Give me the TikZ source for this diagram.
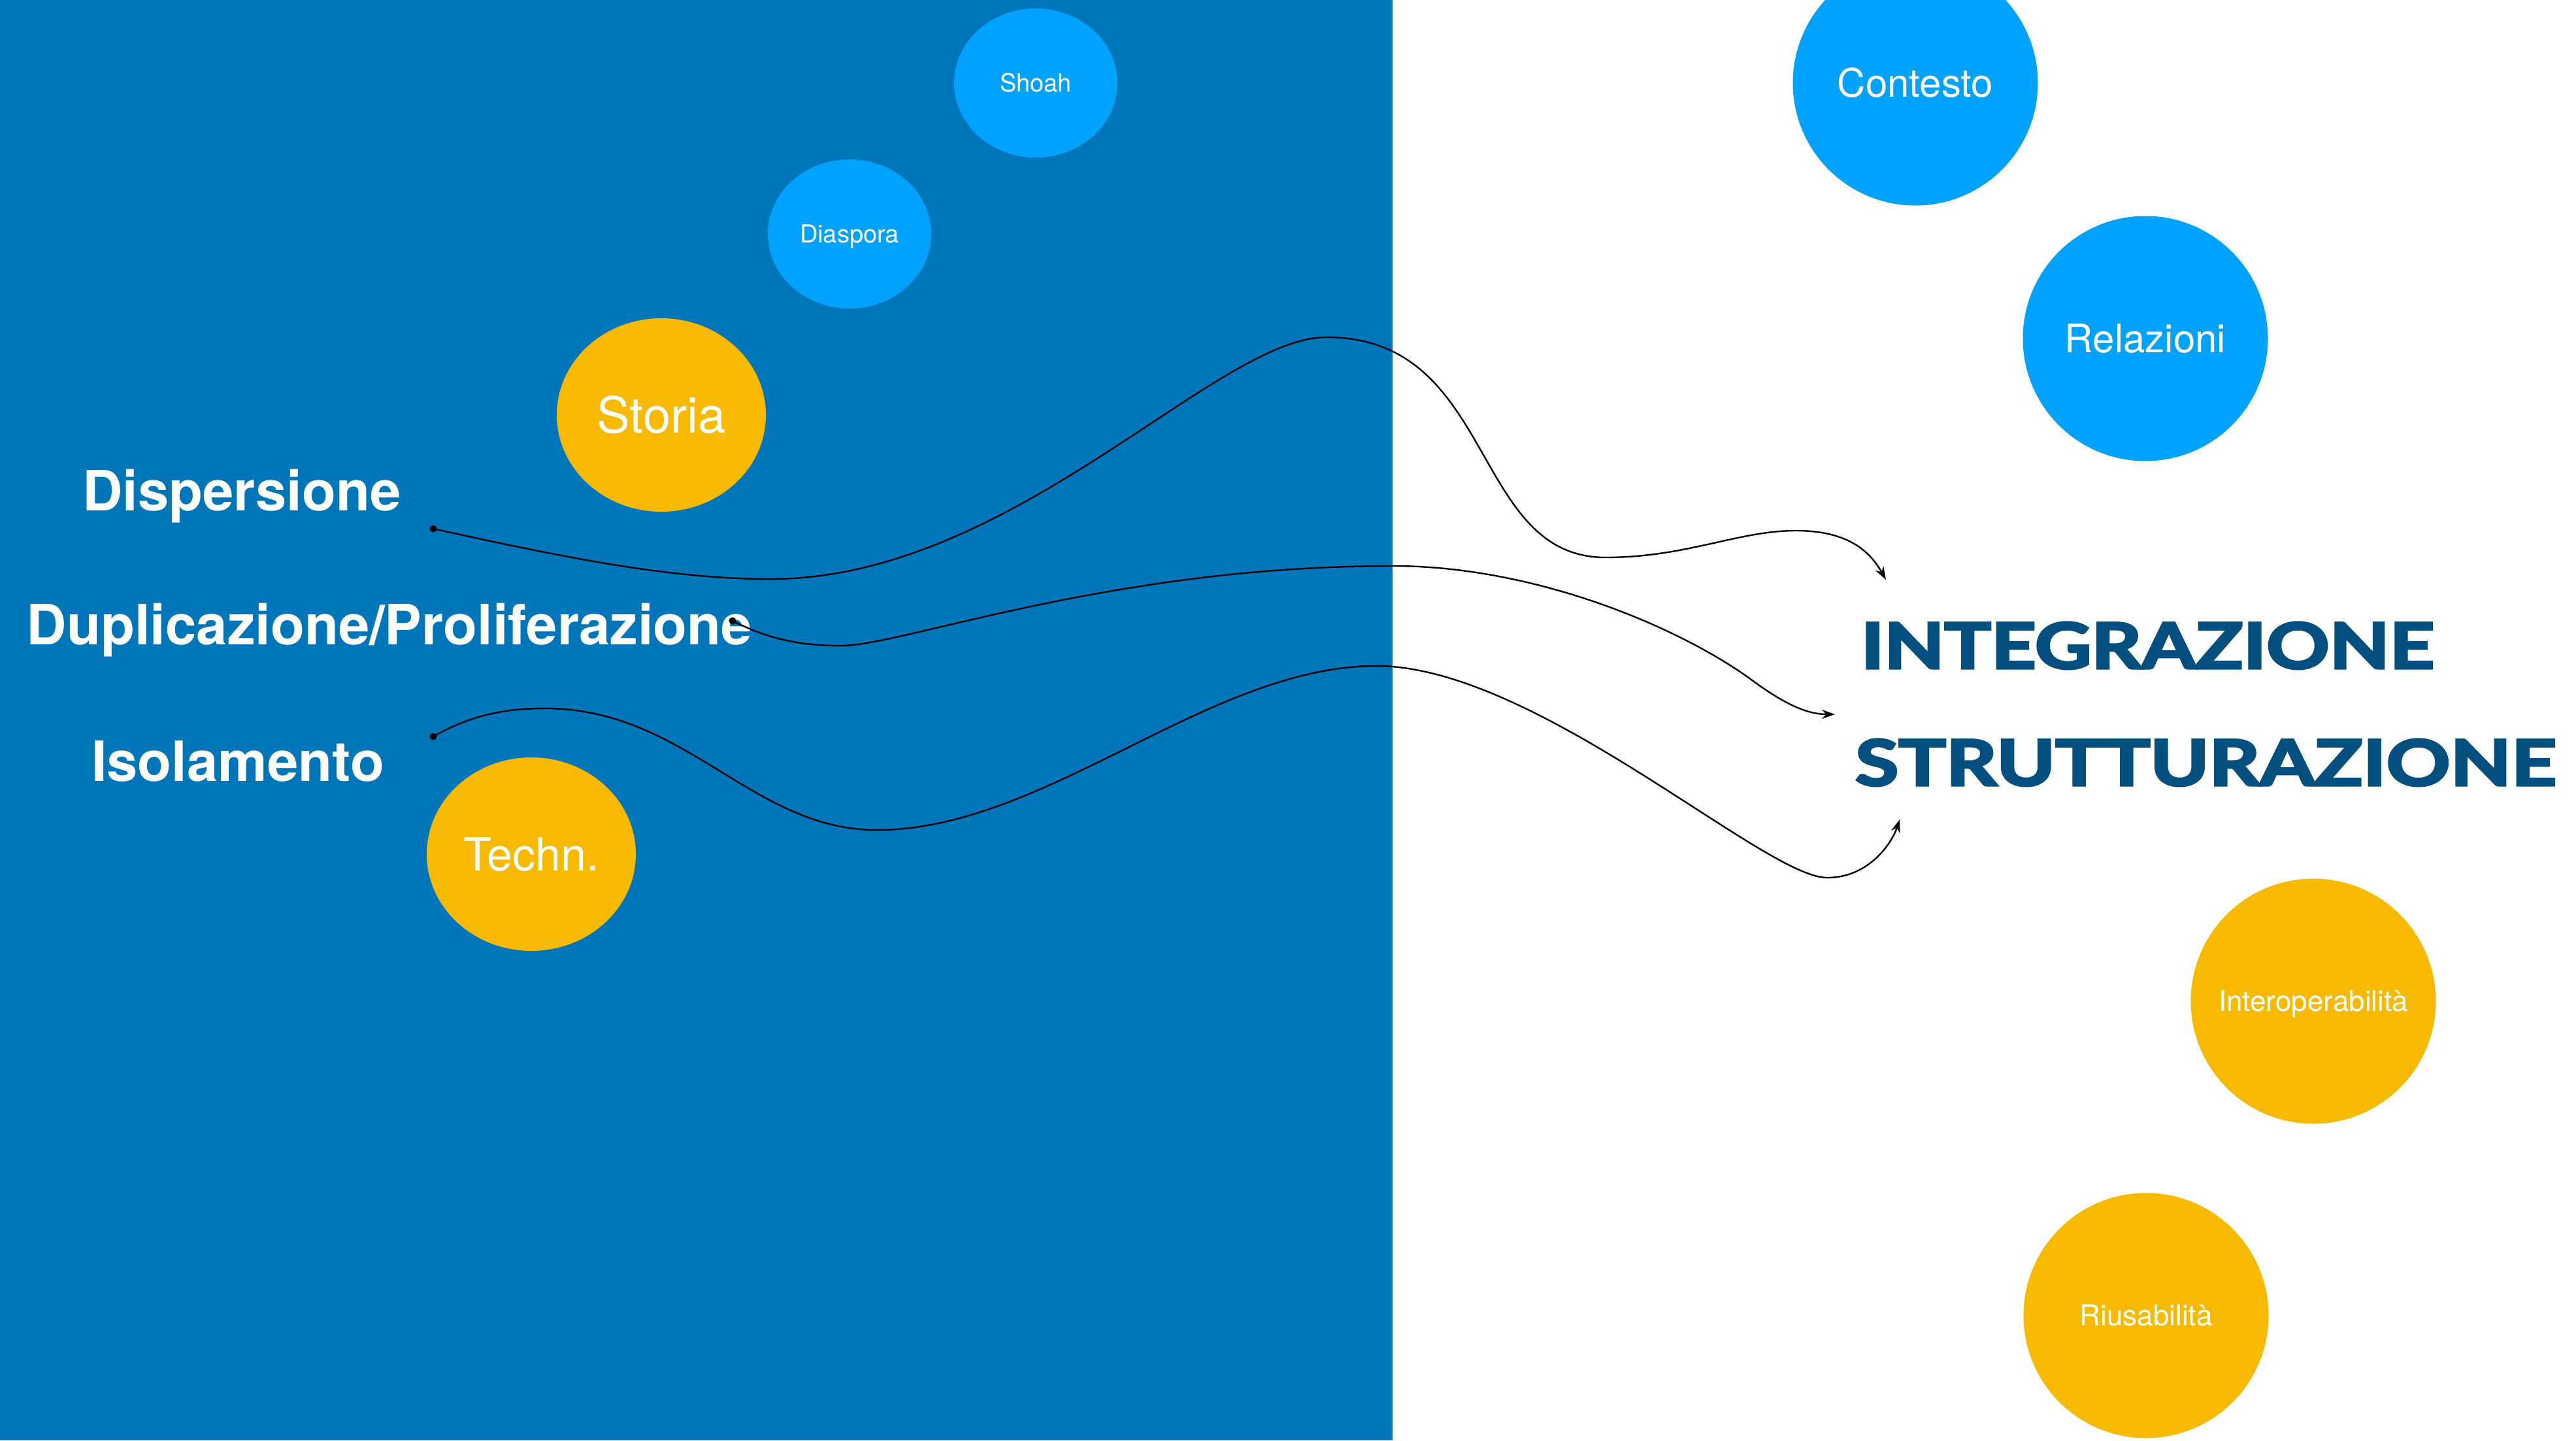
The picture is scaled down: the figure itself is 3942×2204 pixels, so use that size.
\documentclass[tikz,border=0pt]{standalone}
\usepackage{fontspec}
\usepackage{graphicx}
\setmainfont{TeX Gyre Heros}
\newfontfamily\titlefont{Lato}[BoldFeatures={FakeBold=3.5}]
\usetikzlibrary{shapes.geometric,arrows.meta}
\definecolor{panelblue}{RGB}{0,118,186}
\definecolor{lightblue}{RGB}{0,162,255}
\definecolor{gold}{RGB}{248,186,0}
\definecolor{titleblue}{RGB}{2,79,128}
\begin{document}
\begin{tikzpicture}[x=1pt,y=-1pt,
  bubble/.style={fill=#1, draw=none, inner sep=0pt, text=white, text depth=0pt},
  ebub/.style={bubble=#1, ellipse},
  cbub/.style={bubble=#1, circle, minimum size=375pt},
  problem/.style={text=white, font=\fontsize{85}{100}\selectfont\bfseries, anchor=base, inner sep=0pt},
  goal/.style={text=titleblue, anchor=base, inner sep=0pt},
  flow/.style={line width=2.4pt, -{Stealth[length=20pt,width=14pt]}},
  startdot/.style={fill=black}
]
\useasboundingbox (0,0) rectangle (3942,2204);
\clip (0,0) rectangle (3942,2204);
\fill[white] (0,0) rectangle (3942,2204);
\fill[panelblue] (0,0) rectangle (2131,2204);

% bubbles on the blue panel
\node[ebub=lightblue, minimum width=250pt, minimum height=228pt,
      font=\fontsize{38}{40}\selectfont, text height=27pt] (shoah) at (1585,127) {Shoah};
\node[ebub=lightblue, minimum width=250pt, minimum height=228pt,
      font=\fontsize{38}{40}\selectfont, text height=27pt] (diaspora) at (1300,358) {Diaspora};
\node[ebub=gold, minimum width=320pt, minimum height=296pt,
      font=\fontsize{76}{80}\selectfont, text height=54pt] (storia) at (1012,635) {Storia};
\node[ebub=gold, minimum width=320pt, minimum height=296pt,
      font=\fontsize{70}{74}\selectfont, text height=50pt] (techn) at (813,1307) {Techn.};

% bubbles on the white side
\node[cbub=lightblue, font=\fontsize{60}{64}\selectfont, text height=43pt] (contesto) at (2931,127) {Contesto};
\node[cbub=lightblue, font=\fontsize{60}{64}\selectfont, text height=43pt] (relazioni) at (3283,518) {Relazioni};
\node[cbub=gold, font=\fontsize{44}{48}\selectfont, text height=31pt] (interop) at (3540,1532) {Interoperabilità};
\node[cbub=gold, font=\fontsize{44}{48}\selectfont, text height=31pt] (riuso) at (3284,2013) {Riusabilità};

% problems
\node[problem] (dis) at (370,781) {Dispersione};
\node[problem] (dup) at (596,986) {Duplicazione/Proliferazione};
\node[problem] (iso) at (364,1195) {Isolamento};

% goals
\node[goal] (integ) at (3286.5,1023) {\resizebox{877pt}{71pt}{\titlefont\bfseries INTEGRAZIONE}};
\node[goal] (strutt) at (3375.5,1202) {\resizebox{1073pt}{71pt}{\titlefont\bfseries STRUTTURAZIONE}};

% connector ends
\coordinate (s1) at (663,809);
\coordinate (s2) at (1121,950);
\coordinate (s3) at (663,1127);
\coordinate (e1) at (2886,887);
\coordinate (e2) at (2808,1093);
\coordinate (e3) at (2907,1254);

\draw[flow] (s1) .. controls (850,850) and (1020,886) .. (1179,886)
  .. controls (1550,886) and (1860,516) .. (2030,516)
  .. controls (2290,516) and (2250,853) .. (2457,853)
  .. controls (2580,853) and (2660,812) .. (2748,812)
  .. controls (2830,812) and (2862,845) .. (e1);

\draw[flow] (s2) .. controls (1180,980) and (1230,988) .. (1288,988)
  .. controls (1380,988) and (1700,866) .. (2131,866)
  .. controls (2350,866) and (2570,960) .. (2680,1040)
  .. controls (2730,1077) and (2765,1093) .. (e2);

\draw[flow] (s3) .. controls (720,1095) and (770,1084) .. (834,1084)
  .. controls (1050,1084) and (1150,1270) .. (1342,1270)
  .. controls (1600,1270) and (1850,1019) .. (2106,1019)
  .. controls (2350,1019) and (2700,1343) .. (2796,1343)
  .. controls (2860,1343) and (2895,1290) .. (e3);

\fill[startdot] (s1) circle[radius=5.5pt];
\fill[startdot] (s2) circle[radius=5.5pt];
\fill[startdot] (s3) circle[radius=5.5pt];
\end{tikzpicture}
\end{document}
